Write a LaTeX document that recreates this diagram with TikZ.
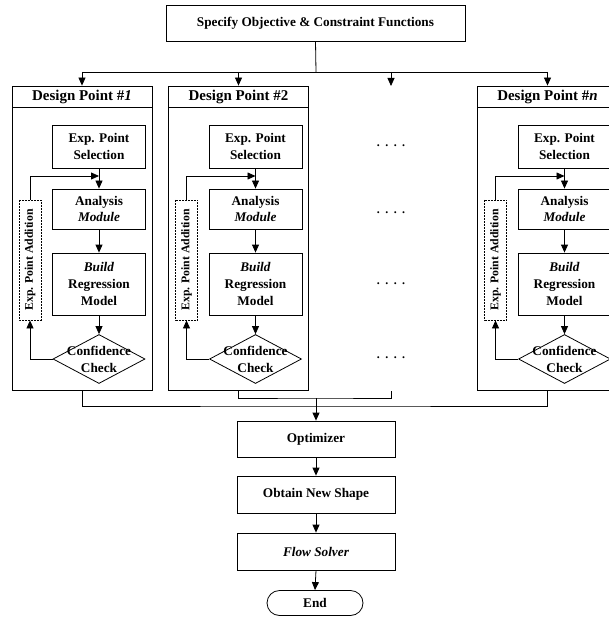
\documentclass[tikz,border=0pt]{standalone}
\usepackage{fontspec}
\setmainfont{Liberation Serif}
\usetikzlibrary{arrows.meta,shapes.geometric,shapes.misc}
\begin{document}
\begin{tikzpicture}[x=1bp,y=-1bp,
  line width=0.8bp,
  every node/.style={font=\fontsize{13.3}{17}\selectfont\bfseries, align=center},
  box/.style={draw, rectangle, inner sep=0pt},
  arr/.style={-{Triangle[length=8bp,width=7bp]}},
  addbox/.style={draw, rectangle, inner sep=0pt, dash pattern=on 2bp off 1bp, rotate=90,
    minimum width=120bp, minimum height=22bp, font=\fontsize{11.8}{13}\selectfont\bfseries},
  inbox/.style={box, minimum width=93bp},
  titlebox/.style={box, minimum width=140bp, minimum height=21bp, fill=white,
    font=\fontsize{15}{17}\selectfont\bfseries},
  chain/.style={box, minimum width=158bp, minimum height=37bp},
  dotrow/.style={font=\fontsize{12}{14}\selectfont\bfseries}]
\useasboundingbox (0,0) rectangle (609,617);
\clip (0,0) rectangle (609,617);

% top box
\node[box, minimum width=299bp, minimum height=36bp] (spec) at (315.5,23) {Specify Objective \& Constraint Functions};
\coordinate (b0) at (316,72);
\coordinate (d0) at (391,86);

% design point panels
\foreach \c/\i/\t in {82/1/{Design Point \#\textit{1}}, 238.5/2/{Design Point \#2}, 547.5/n/{Design Point \#\textit{n}}} {
  \node[box, minimum width=140bp, minimum height=304bp] (dp\i) at (\c,238) {};
  \node[titlebox] (t\i) at (\c,96.5) {\t};
  \node[inbox, minimum height=43bp] (sel\i) at (\c+17,146.5) {Exp. Point\\Selection};
  \node[inbox, minimum height=40bp] (ana\i) at (\c+17,209) {Analysis\\\textit{Module}};
  \node[inbox, minimum height=62bp] (bld\i) at (\c+17,284) {\textit{Build}\\Regression\\Model};
  \node[draw, diamond, inner sep=0pt, minimum width=92bp, minimum height=49bp] (chk\i) at (\c+17,359) {};
  \node (chkt\i) at (\c+17,359) {Confidence\\Check};
  \node[addbox] (add\i) at (\c-52,260) {Exp. Point Addition};
  \coordinate (j\i) at (\c+17,176);
  \draw[arr] (sel\i.south) -- (ana\i.north);
  \draw[arr] (add\i.east) |- (j\i);
  \draw[arr] (ana\i.south) -- (bld\i.north);
  \draw[arr] (bld\i.south) -- (chk\i.north);
  \draw[arr] (chk\i.west) -| (add\i.west);
  \draw[arr] (t\i.north |- b0) -- (t\i.north);
}

% bus from top box
\draw (spec.south) -- (b0);
\draw (t1.north |- b0) -- (tn.north |- b0);
\draw[arr] (d0 |- b0) -- (d0);

% dots column
\foreach \k/\y in {1/146, 2/213, 3/284, 4/358} {
  \node[dotrow] (dots\k) at (391,\y) {.\hspace{5.5bp}.\hspace{5.5bp}.\hspace{5.5bp}.};
}

% bottom chain
\node[chain, minimum height=36bp] (opt) at (316,439) {Optimizer};
\node[chain] (shape) at (316,494.5) {Obtain New Shape};
\node[chain] (flow) at (316,551.5) {\textit{Flow Solver}};
\node[draw, rounded rectangle, inner sep=0pt, minimum width=96bp, minimum height=25bp] (end) at (315,603) {End};

\coordinate (m1) at (316,406);
\coordinate (m2) at (316,398);
\coordinate (d1) at (391,391);
\draw (dp1.south) |- (m1) -| (dpn.south);
\draw (dp2.south) |- (m2) -| (d1);
\draw[arr] (m2) -- (opt.north);
\draw[arr] (opt.south) -- (shape.north);
\draw[arr] (shape.south) -- (flow.north);
\draw[arr] (flow.south) -- (end.north);
\end{tikzpicture}
\end{document}
